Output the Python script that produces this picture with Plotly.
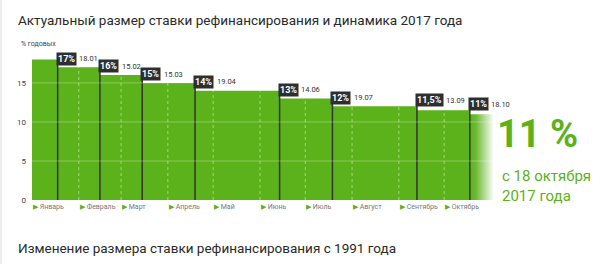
import plotly.graph_objects as go

# ---------------- data ----------------
start_date = "2017-01-01"
start_rate = 18
change_dates = ["2017-01-18", "2017-02-15", "2017-03-15", "2017-04-19",
                "2017-06-14", "2017-07-19", "2017-09-13", "2017-10-18"]
rates_after = [17, 16, 15, 14, 13, 12, 11.5, 11]
rate_labels = ["17%", "16%", "15%", "14%", "13%", "12%", "11,5%", "11%"]
date_labels = ["18.01", "15.02", "15.03", "19.04", "14.06", "19.07", "13.09", "18.10"]
fade_end = "2017-11-03"
x_end = "2017-11-07"

month_dates = ["2017-01-01", "2017-02-01", "2017-03-01", "2017-04-01", "2017-05-01",
               "2017-06-01", "2017-07-01", "2017-08-01", "2017-09-01", "2017-10-01"]
month_names = ["Январь", "Февраль", "Март", "Апрель", "Май", "Июнь", "Июль",
               "Август", "Сентябрь", "Октябрь"]
y_ticks = [0, 5, 10, 15]

GREEN = "#5cb21a"
DARK = "#2e2e2e"
FONT = "Roboto, sans-serif"
Y_MAX = 20.5
PLOT_H = 160
PX_PER_UNIT = PLOT_H / Y_MAX

prev_rates = [start_rate] + rates_after[:-1]
# the last two flags sit a little higher above their step (pixels)
flag_lift = [1, 1, 1, 1, 1, 1, 6, 6]

fig = go.Figure()

# step area (up to the last change)
fig.add_trace(go.Scatter(
    x=[start_date] + change_dates,
    y=[start_rate] + rates_after[:-1] + [rates_after[-2]],
    mode="lines", line=dict(shape="hv", width=0, color=GREEN),
    fill="tozeroy", fillcolor=GREEN, hoverinfo="skip", showlegend=False))

# last segment fading out
fig.add_trace(go.Scatter(
    x=[change_dates[-1], fade_end], y=[rates_after[-1], rates_after[-1]],
    mode="lines", line=dict(width=0, color=GREEN),
    fill="tozeroy",
    fillgradient=dict(type="horizontal",
                      colorscale=[[0, "rgba(92,178,26,1)"], [0.25, "rgba(92,178,26,0.9)"],
                                  [1, "rgba(92,178,26,0)"]]),
    hoverinfo="skip", showlegend=False))

# dark vertical markers at change dates (up to their flag)
vx, vy = [], []
for d, p, lift in zip(change_dates, prev_rates, flag_lift):
    vx += [d, d, None]
    vy += [0, p + (lift - 1) / PX_PER_UNIT, None]
fig.add_trace(go.Scatter(x=vx, y=vy, mode="lines",
                         line=dict(color="#333333", width=1.5),
                         hoverinfo="skip", showlegend=False))

shapes = []
# horizontal grid over bars
for t in y_ticks[1:]:
    shapes.append(dict(type="line", xref="paper", x0=0, x1=1, yref="y", y0=t, y1=t,
                       line=dict(color="rgba(255,255,255,0.3)", width=1), layer="above"))
# dotted month lines
for m in month_dates[1:]:
    shapes.append(dict(type="line", xref="x", x0=m, x1=m, yref="y", y0=0, y1=start_rate,
                       line=dict(color="rgba(255,255,255,0.45)", width=1, dash="dot"),
                       layer="above"))
# faint left border
shapes.append(dict(type="line", xref="paper", x0=-0.066, x1=-0.066, yref="paper",
                   y0=-0.4, y1=1.25, line=dict(color="#eeeeee", width=2)))

ann = []
# change labels
def est_w(s):
    w = 0
    for c in s:
        w += 6.6 if c == "%" else (2.0 if c == "," else 5.0)
    return w

for d, p, lab, dl, lift in zip(change_dates, prev_rates, rate_labels, date_labels, flag_lift):
    ann.append(dict(x=d, y=p, xref="x", yref="y", text="<b>%s</b>" % lab,
                    showarrow=False, xanchor="left", yanchor="middle", xshift=-2, yshift=lift,
                    bgcolor=DARK, borderpad=1,
                    font=dict(family=FONT, size=9, color="white")))
    ann.append(dict(x=d, y=p, xref="x", yref="y", text=dl,
                    showarrow=False, xanchor="left", yanchor="middle",
                    xshift=est_w(lab) + 3, yshift=lift,
                    font=dict(family=FONT, size=7.5, color="#333333")))

# month labels
for m, n in zip(month_dates, month_names):
    ann.append(dict(x=m, y=0, xref="x", yref="y",
                    text='<span style="color:%s">▶</span> %s' % (GREEN, n),
                    showarrow=False, xanchor="left", yanchor="middle", yshift=-7, xshift=-1,
                    font=dict(family=FONT, size=7, color="#777777")))

# y-axis caption
ann.append(dict(x=0, y=1, xref="paper", yref="paper", text="% годовых",
                showarrow=False, xanchor="left", yanchor="middle", xshift=-13, yshift=-4,
                font=dict(family=FONT, size=7, color="#444444")))

# titles
ann.append(dict(x=0, y=1.125, xref="paper", yref="paper",
                text="Актуальный размер ставки рефинансирования и динамика 2017 года",
                showarrow=False, xanchor="left", yanchor="middle", xshift=-16,
                font=dict(family=FONT, size=13.5, color="#2a2a2a")))
ann.append(dict(x=0, y=-0.3, xref="paper", yref="paper",
                text="Изменение размера ставки рефинансирования с 1991 года",
                showarrow=False, xanchor="left", yanchor="middle", xshift=-16,
                font=dict(family=FONT, size=13.5, color="#2a2a2a")))

# big current rate
ann.append(dict(x=1, y=0.41, xref="paper", yref="paper", text="<b>11 %</b>",
                showarrow=False, xanchor="left", yanchor="middle", xshift=-5,
                font=dict(family=FONT, size=38, color=GREEN)))
ann.append(dict(x=1, y=0.0875, xref="paper", yref="paper",
                text="с 18 октября<br>2017 года",
                showarrow=False, xanchor="left", yanchor="middle", align="left", xshift=0,
                font=dict(family=FONT, size=15, color=GREEN)))

fig.update_layout(
    width=600, height=264,
    margin=dict(l=32, r=100, t=40, b=64),
    paper_bgcolor="white", plot_bgcolor="white",
    showlegend=False,
    xaxis=dict(type="date", range=[start_date, x_end], showgrid=False, zeroline=False,
               showticklabels=False, showline=False, ticks=""),
    yaxis=dict(range=[0, Y_MAX], tickvals=y_ticks, showgrid=False, zeroline=False,
               showline=False, ticks="", ticklabelstandoff=5,
               tickfont=dict(family=FONT, size=8, color="#444444")),
    shapes=shapes, annotations=ann,
)

fig.write_html("out.html")
